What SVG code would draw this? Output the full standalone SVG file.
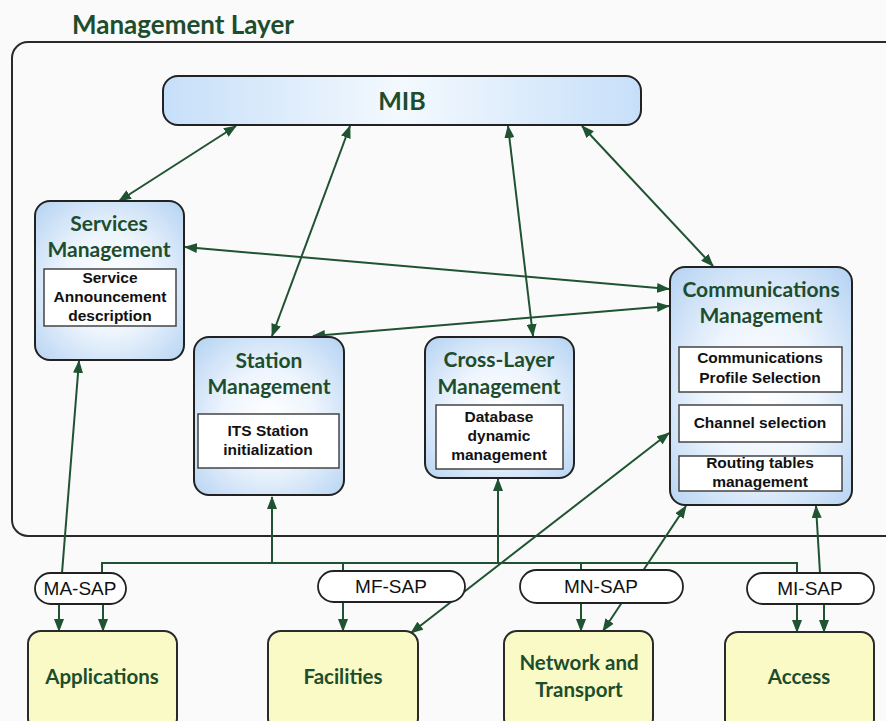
<svg xmlns="http://www.w3.org/2000/svg" width="886" height="721" viewBox="0 0 886 721">
<defs>
<radialGradient id="gBox" cx="50%" cy="52%" r="68%">
<stop offset="0" stop-color="#ffffff"/>
<stop offset="0.45" stop-color="#eef5fd"/>
<stop offset="1" stop-color="#b9d5f3"/>
</radialGradient>
<linearGradient id="gMib" x1="0" y1="0" x2="1" y2="0">
<stop offset="0" stop-color="#c6dff9"/>
<stop offset="0.5" stop-color="#f4f9fe"/>
<stop offset="1" stop-color="#c6dff9"/>
</linearGradient>
<marker id="ah" viewBox="0 0 13 10" refX="12" refY="5" markerWidth="13" markerHeight="10" markerUnits="userSpaceOnUse" orient="auto-start-reverse">
<path d="M0,0 L13,5 L0,10 z" fill="#1f5332"/>
</marker>
<style>
.mgmt{fill:url(#gBox);stroke:#222;stroke-width:2}
.inner{fill:#fff;stroke:#444;stroke-width:1.5}
.lay{fill:#fafac6;stroke:#2a2a2a;stroke-width:2}
.pill{fill:#fff;stroke:#222;stroke-width:1.8}
.t{font-family:Lato,"Liberation Sans",sans-serif;font-weight:700;fill:#1d4d2c;text-anchor:middle}
.h{font-size:21px}
.b{font-size:20.5px}
.it{font-family:"Liberation Sans",Arial,sans-serif;font-weight:700;font-size:15.5px;fill:#111;text-anchor:middle}
.st{font-family:"Liberation Sans",Arial,sans-serif;font-size:19px;fill:#111;text-anchor:middle}
.c{fill:none;stroke:#1f5332;stroke-width:2}
.d{marker-start:url(#ah);marker-end:url(#ah)}
.s{marker-end:url(#ah)}
</style>
</defs>
<rect width="886" height="721" fill="#fafafa"/>
<text x="72" y="34" class="t" style="text-anchor:start;font-size:26px">Management Layer</text>
<rect x="12" y="42" width="900" height="494" rx="16" fill="none" stroke="#2a2a2a" stroke-width="2"/>

<g id="connectors">
<path class="c d" d="M236,126 L119,201"/>
<path class="c d" d="M350,126 L272,336"/>
<path class="c d" d="M508,126 L533,336"/>
<path class="c d" d="M582,126 L713,266"/>
<path class="c d" d="M185,247 L669,289"/>
<path class="c d" d="M313,336 L669,306"/>
<path class="c d" d="M669,433 L411,633"/>
<path class="c d" d="M686,506 L603,631"/>
<path class="c s" d="M820,573 L816,506"/>
<path class="c s" d="M62,573 L79,361"/>
<path class="c" d="M102,573 V563 H797 V573 M343,563 V571 M581,563 V570"/>
<path class="c s" d="M272,563 V497"/>
<path class="c s" d="M498,563 V479"/>
<path class="c s" d="M59,604 V631"/>
<path class="c s" d="M103,604 V631"/>
<path class="c s" d="M343,602 V631"/>
<path class="c s" d="M581,603 V631"/>
<path class="c s" d="M797,604 V632"/>
<path class="c s" d="M824,604 V632"/>
</g>

<g id="mib">
<rect x="163" y="76" width="478" height="49" rx="15" fill="url(#gMib)" stroke="#222" stroke-width="2"/>
<text x="402" y="110" class="t" style="font-size:25px">MIB</text>
</g>

<g id="services">
<rect x="35" y="201" width="149" height="159" rx="15" class="mgmt"/>
<text x="109" y="231" class="t h">Services</text>
<text x="109" y="257" class="t h">Management</text>
<rect x="44" y="269" width="132" height="57" class="inner"/>
<text x="110" y="283" class="it">Service</text>
<text x="110" y="302" class="it">Announcement</text>
<text x="110" y="321" class="it">description</text>
</g>

<g id="station">
<rect x="194" y="337" width="150" height="158" rx="15" class="mgmt"/>
<text x="269" y="368" class="t h">Station</text>
<text x="269" y="394" class="t h">Management</text>
<rect x="198" y="414" width="141" height="54" class="inner"/>
<text x="268" y="436" class="it">ITS Station</text>
<text x="268" y="455" class="it">initialization</text>
</g>

<g id="crosslayer">
<rect x="425" y="337" width="149" height="141" rx="15" class="mgmt"/>
<text x="499" y="367" class="t h">Cross-Layer</text>
<text x="499" y="394" class="t h">Management</text>
<rect x="436" y="405" width="127" height="64" class="inner"/>
<text x="499" y="422" class="it">Database</text>
<text x="499" y="441" class="it">dynamic</text>
<text x="499" y="460" class="it">management</text>
</g>

<g id="comms">
<rect x="670" y="267" width="182" height="238" rx="15" class="mgmt"/>
<text x="761" y="297" class="t h">Communications</text>
<text x="761" y="323" class="t h">Management</text>
<rect x="679" y="347" width="163" height="45" class="inner"/>
<text x="760" y="363" class="it">Communications</text>
<text x="760" y="383" class="it">Profile Selection</text>
<rect x="679" y="405" width="163" height="37" class="inner"/>
<text x="760" y="428" class="it">Channel selection</text>
<rect x="679" y="456" width="163" height="35" class="inner"/>
<text x="760" y="468" class="it">Routing tables</text>
<text x="760" y="487" class="it">management</text>
</g>

<g id="ma-sap">
<rect x="35" y="573" width="91" height="31" rx="15.5" class="pill"/>
<text x="80" y="595" class="st">MA-SAP</text>
</g>
<g id="mf-sap">
<rect x="318" y="571" width="147" height="31" rx="15.5" class="pill"/>
<text x="391" y="593" class="st">MF-SAP</text>
</g>
<g id="mn-sap">
<rect x="520" y="570" width="163" height="33" rx="16.5" class="pill"/>
<text x="601" y="593" class="st">MN-SAP</text>
</g>
<g id="mi-sap">
<rect x="747" y="573" width="127" height="31" rx="15.5" class="pill"/>
<text x="810" y="595" class="st">MI-SAP</text>
</g>

<g id="applications">
<rect x="28" y="631" width="149" height="100" rx="13" class="lay"/>
<text x="102" y="684" class="t b">Applications</text>
</g>
<g id="facilities">
<rect x="268" y="631" width="150" height="100" rx="13" class="lay"/>
<text x="343" y="684" class="t b">Facilities</text>
</g>
<g id="network">
<rect x="504" y="631" width="149" height="100" rx="13" class="lay"/>
<text x="579" y="670" class="t b">Network and</text>
<text x="579" y="697" class="t b">Transport</text>
</g>
<g id="access">
<rect x="725" y="632" width="149" height="100" rx="13" class="lay"/>
<text x="799" y="684" class="t b">Access</text>
</g>
</svg>
